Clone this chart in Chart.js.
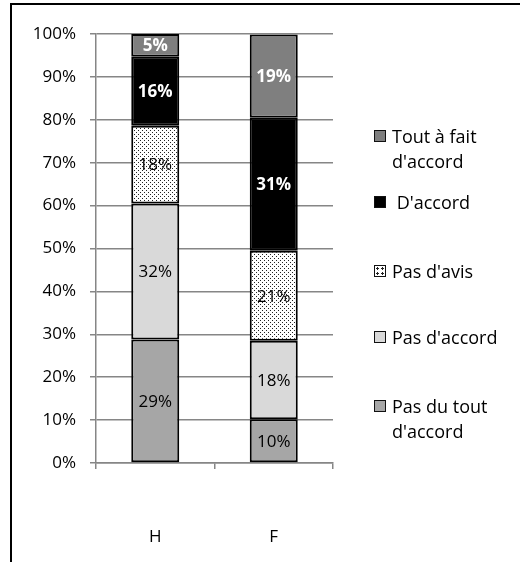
<!DOCTYPE html>
<html>
<head>
<meta charset="utf-8">
<script src="https://cdn.jsdelivr.net/npm/chart.js@4.4.1/dist/chart.umd.min.js"></script>
<style>
  body { margin: 0; background: #fff; font-family: "Open Sans", sans-serif; }
  #wrap { position: relative; width: 520px; height: 562px; overflow: hidden; }
  #frame { position: absolute; left: 10px; top: 3px; width: 600px; height: 700px;
           border-top: 2px solid #000; border-left: 2px solid #000; }
  #legend { position: absolute; left: 374px; top: 0; font-size: 18px; color: #000; }
  .item { position: absolute; left: 0; width: 146px; line-height: 25px; }
  .box { position: absolute; left: 0; top: 6px; width: 10px; height: 10px; border: 1.5px solid #111; }
  .txt { position: absolute; left: 18px; top: 0; white-space: nowrap; }
</style>
</head>
<body>
<div id="wrap">
  <div id="frame"></div>
  <canvas id="chart" width="520" height="562"></canvas>
  <div id="legend"></div>
</div>
<script>
// data
const categories = ['H', 'F'];
const seriesNames = ["Pas du tout d'accord", "Pas d'accord", "Pas d'avis", "D'accord", "Tout à fait d'accord"];
const pasDuTout = [28.8, 10.2];
const pasDaccord = [31.7, 18.3];
const pasDavis = [18.1, 21.0];
const daccord = [16.1, 31.0];
const toutAFait = [5.3, 19.4];
const yTicks = ['0%', '10%', '20%', '30%', '40%', '50%', '60%', '70%', '80%', '90%', '100%'];

const FONT = '"Open Sans", sans-serif';

// dotted fill for "Pas d'avis"
const makeDots = () => {
  const c = document.createElement('canvas');
  c.width = 4; c.height = 4;
  const g = c.getContext('2d');
  g.fillStyle = '#fff';
  g.fillRect(0, 0, 4, 4);
  g.fillStyle = '#222';
  g.fillRect(0, 0, 1, 1);
  g.fillRect(2, 2, 1, 1);
  return c;
};
const ctx = document.querySelector('#chart').getContext('2d');
const dots = ctx.createPattern(makeDots(), 'repeat');

const fills = ['#a6a6a6', '#d9d9d9', dots, '#000000', '#7f7f7f'];
const labelColors = ['#000', '#000', '#000', '#fff', '#fff'];
const labelBold = [false, false, false, true, true];
const allValues = [pasDuTout, pasDaccord, pasDavis, daccord, toutAFait];

// labels in the middle of each segment
const segLabels = {
  id: 'segLabels',
  afterDatasetsDraw(chart) {
    const c = chart.ctx;
    chart.data.datasets.forEach((ds, i) => {
      chart.getDatasetMeta(i).data.forEach((bar, j) => {
        const mid = (bar.y + bar.base) / 2;
        c.save();
        c.font = (labelBold[i] ? 'bold ' : '') + '17px ' + FONT;
        c.fillStyle = labelColors[i];
        c.textAlign = 'center';
        c.textBaseline = 'middle';
        c.fillText(Math.round(ds.data[j]) + '%', bar.x, mid + 1);
        c.restore();
      });
    });
  }
};

let chart = new Chart(ctx, {
  type: 'bar',
  data: {
    labels: categories,
    datasets: allValues.map((vals, i) => ({
      label: seriesNames[i],
      data: vals,
      backgroundColor: fills[i],
      borderColor: '#000',
      borderWidth: 2,
      borderSkipped: false,
      barPercentage: 0.405,
      categoryPercentage: 1
    }))
  },
  options: {
    responsive: false,
    animation: false,
    layout: { padding: { left: 16, right: 187, top: 34, bottom: 0 } },
    plugins: { legend: { display: false }, tooltip: { enabled: false } },
    scales: {
      x: {
        stacked: true,
        grid: { drawOnChartArea: false, color: '#868686', tickLength: 6, lineWidth: 1.5 },
        border: { color: '#868686', width: 1.5 },
        ticks: { color: '#000', padding: 58, font: { family: FONT, size: 17 } },
        afterFit: (s) => { s.height = 99; }
      },
      y: {
        stacked: true,
        min: 0,
        max: 100,
        grid: { color: '#868686', tickLength: 6, lineWidth: 1.5 },
        border: { color: '#868686', width: 1.5 },
        ticks: {
          stepSize: 10,
          color: '#000',
          padding: 14,
          font: { family: FONT, size: 17 },
          callback: (v) => yTicks[Math.round(v / 10)]
        },
        afterFit: (s) => { s.width = 80; }
      }
    }
  },
  plugins: [segLabels]
});

// legend, top item first
const legendDiv = document.querySelector('#legend');
const legendTops = [124, 190, 259, 325, 394];
const legendText = ["Tout à fait<br>d'accord", "&nbsp;D'accord", "Pas d'avis", "Pas d'accord", "Pas du tout<br>d'accord"];
[4, 3, 2, 1, 0].forEach((si, k) => {
  const item = document.createElement('div');
  item.className = 'item';
  item.style.top = legendTops[k] + 'px';
  const box = document.createElement('div');
  box.className = 'box';
  if (si === 2) {
    box.style.backgroundImage = 'radial-gradient(#222 30%, transparent 35%)';
    box.style.backgroundSize = '5px 5px';
    box.style.backgroundColor = '#fff';
  } else {
    box.style.background = fills[si];
  }
  const txt = document.createElement('div');
  txt.className = 'txt';
  txt.innerHTML = legendText[k];
  item.appendChild(box);
  item.appendChild(txt);
  legendDiv.appendChild(item);
});
</script>
</body>
</html>
